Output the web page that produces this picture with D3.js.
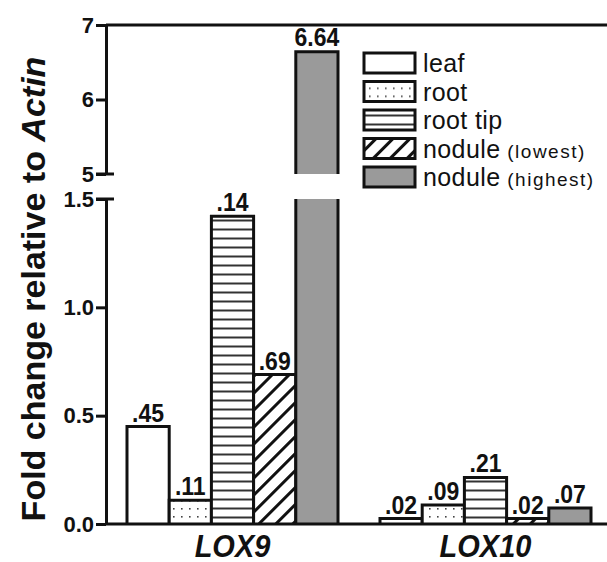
<!DOCTYPE html>
<html>
<head>
<meta charset="utf-8">
<script src="https://cdn.jsdelivr.net/npm/d3@7"></script>
<style>
  body { margin: 0; background: #fff; }
  text { font-family: "Liberation Sans", Arial, sans-serif; fill: #111; }
</style>
</head>
<body>
<div class="chart"></div>
<script>
// data
var genes = ["LOX9", "LOX10"];
var tissues = ["leaf", "root", "root tip", "nodule (lowest)", "nodule (highest)"];
var lox9Values = [0.45, 0.11, 1.42, 0.69, 6.64];
var lox10Values = [0.025, 0.088, 0.215, 0.025, 0.074];
var lox9Labels = [".45", ".11", ".14", ".69", "6.64"];
var lox10Labels = [".02", ".09", ".21", ".02", ".07"];
var lowTicks = [0, 0.5, 1.0, 1.5];
var highTicks = [5, 6, 7];

var svgWidth = 607, svgHeight = 562;
var axisX = 106;

var svg = d3.select(".chart").append("svg")
  .attr("width", svgWidth)
  .attr("height", svgHeight);

// patterns for the fills
var defs = svg.append("defs");
var dots = defs.append("pattern").attr("id", "dots")
  .attr("patternUnits", "userSpaceOnUse").attr("width", 8).attr("height", 8)
  .attr("x", 2).attr("y", 1);
dots.append("rect").attr("width", 8).attr("height", 8).attr("fill", "#fff");
dots.append("rect").attr("x", 3).attr("y", 3).attr("width", 1.6).attr("height", 1.6).attr("fill", "#444");

var stripes = defs.append("pattern").attr("id", "stripes")
  .attr("patternUnits", "userSpaceOnUse").attr("width", 9).attr("height", 9);
stripes.append("rect").attr("width", 9).attr("height", 9).attr("fill", "#fff");
stripes.append("rect").attr("y", 3.5).attr("width", 9).attr("height", 2).attr("fill", "#333");

var hatch = defs.append("pattern").attr("id", "hatch")
  .attr("patternUnits", "userSpaceOnUse").attr("width", 12).attr("height", 12)
  .attr("patternTransform", "rotate(45)");
hatch.append("rect").attr("width", 12).attr("height", 12).attr("fill", "#fff");
hatch.append("rect").attr("x", 0).attr("width", 3).attr("height", 12).attr("fill", "#111");

var fills = ["#fff", "url(#dots)", "url(#stripes)", "url(#hatch)", "#9a9a9a"];

// scales (broken y axis: two segments)
var yLow = d3.scaleLinear().domain([0, 1.5]).range([524, 199]);
var yHigh = d3.scaleLinear().domain([5, 7]).range([174, 25]);

var x0 = d3.scaleBand().domain(genes).range([axisX, 612])
  .paddingInner(0.166).paddingOuter(0.083);
var x1 = d3.scaleBand().domain(tissues).range([0, x0.bandwidth()]);

var rows = [];
genes.forEach(function(g, gi) {
  var vals = gi === 0 ? lox9Values : lox10Values;
  var labs = gi === 0 ? lox9Labels : lox10Labels;
  tissues.forEach(function(t, ti) {
    rows.push({ gene: g, tissue: t, value: vals[ti], label: labs[ti], fill: fills[ti] });
  });
});

var barGroup = svg.append("g");

rows.forEach(function(d) {
  var xl = x0(d.gene) + x1(d.tissue);
  var xr = xl + x1.bandwidth();
  var y0 = yLow(0);
  var broken = d.value > 1.5;
  var yt = broken ? yLow(1.5) : yLow(d.value);

  // lower segment
  barGroup.append("rect")
    .attr("x", xl).attr("y", yt)
    .attr("width", xr - xl).attr("height", y0 - yt)
    .attr("fill", d.fill);
  var p = broken
    ? "M" + xl + "," + y0 + "V" + yt + "M" + xr + "," + yt + "V" + y0
    : "M" + xl + "," + y0 + "V" + yt + "H" + xr + "V" + y0;
  barGroup.append("path").attr("d", p)
    .attr("fill", "none").attr("stroke", "#111").attr("stroke-width", 3);

  var labelY = yt - 5;

  // upper segment
  if (broken) {
    var yb = yHigh(5), yv = yHigh(d.value);
    barGroup.append("rect")
      .attr("x", xl).attr("y", yv)
      .attr("width", xr - xl).attr("height", yb - yv)
      .attr("fill", d.fill);
    barGroup.append("path")
      .attr("d", "M" + xl + "," + yb + "V" + yv + "H" + xr + "V" + yb)
      .attr("fill", "none").attr("stroke", "#111").attr("stroke-width", 3);
    labelY = yv - 6;
  }

  barGroup.append("text")
    .attr("transform", "translate(" + ((xl + xr) / 2) + "," + labelY + ") scale(1,1.1)")
    .attr("text-anchor", "middle")
    .style("font-size", "23px")
    .style("font-weight", "bold")
    .text(d.label);
});

// axes
var lowAxis = d3.axisLeft(yLow).tickValues(lowTicks).tickSize(10).tickSizeOuter(0)
  .tickFormat(d3.format(".1f"));
var highAxis = d3.axisLeft(yHigh).tickValues(highTicks).tickSize(10).tickSizeOuter(0)
  .tickFormat(d3.format("d"));

[lowAxis, highAxis].forEach(function(a) {
  var g = svg.append("g")
    .attr("transform", "translate(" + axisX + ",0)")
    .call(a);
  g.select(".domain").attr("stroke", "#111").attr("stroke-width", 3);
  g.selectAll(".tick line").attr("stroke", "#111").attr("stroke-width", 3);
  g.selectAll(".tick text")
    .attr("x", -12)
    .style("font-family", "'Liberation Sans', Arial, sans-serif")
    .style("font-size", "22px")
    .style("font-weight", "bold")
    .attr("fill", "#111");
});

// break caps
svg.append("line")
  .attr("x1", axisX - 10).attr("x2", axisX + 8)
  .attr("y1", yHigh(5)).attr("y2", yHigh(5))
  .attr("stroke", "#111").attr("stroke-width", 3);
svg.append("line")
  .attr("x1", axisX - 10).attr("x2", axisX + 8)
  .attr("y1", yLow(1.5)).attr("y2", yLow(1.5))
  .attr("stroke", "#111").attr("stroke-width", 3);

// top frame line and baseline
svg.append("line")
  .attr("x1", axisX).attr("x2", svgWidth)
  .attr("y1", yHigh(7)).attr("y2", yHigh(7))
  .attr("stroke", "#111").attr("stroke-width", 3);
svg.append("line")
  .attr("x1", axisX).attr("x2", svgWidth)
  .attr("y1", yLow(0)).attr("y2", yLow(0))
  .attr("stroke", "#111").attr("stroke-width", 3);

// gene labels
svg.selectAll(".gene")
  .data(genes)
  .enter()
  .append("text")
  .attr("class", "gene")
  .attr("transform", d => "translate(" + (x0(d) + x0.bandwidth() / 2) + ",557) scale(1,1.1)")
  .attr("text-anchor", "middle")
  .style("font-size", "29px")
  .style("font-weight", "bold")
  .style("font-style", "italic")
  .text(d => d);

// y axis title
var title = svg.append("text")
  .attr("transform", "translate(45,289) rotate(-90)")
  .attr("text-anchor", "middle")
  .style("font-size", "34px")
  .style("font-weight", "bold");
title.append("tspan").text("Fold change relative to ");
title.append("tspan").style("font-style", "italic").text("Actin");

// legend
var legend = svg.append("g").attr("transform", "translate(364,63)");
var item = legend.selectAll("g")
  .data(tissues)
  .enter()
  .append("g")
  .attr("transform", (d, i) => "translate(0," + (i * 28.5) + ")");
item.append("rect")
  .attr("x", 0).attr("y", -10)
  .attr("width", 51).attr("height", 20)
  .attr("fill", (d, i) => fills[i])
  .attr("stroke", "#111").attr("stroke-width", 3);
var itemText = item.append("text")
  .attr("x", 59).attr("y", 9)
  .style("font-size", "25px")
  .style("letter-spacing", "0.4px");
itemText.append("tspan").text(d => d.split(" (")[0]);
itemText.append("tspan")
  .style("font-size", "19px")
  .style("letter-spacing", "1.5px")
  .text(d => d.indexOf("(") >= 0 ? " (" + d.split(" (")[1] : "");
</script>
</body>
</html>
